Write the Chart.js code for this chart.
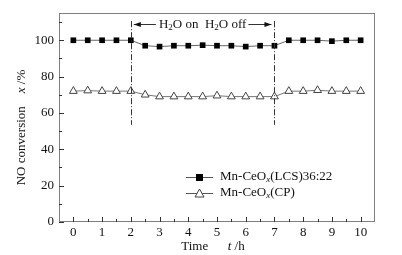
<!DOCTYPE html>
<html>
<head>
<meta charset="utf-8">
<script src="https://cdn.jsdelivr.net/npm/chart.js@4.4.1/dist/chart.umd.min.js"></script>
<style>
html, body { margin: 0; padding: 0; background: #fff; }
#wrap { width: 402px; height: 255px; }
</style>
</head>
<body>
<div id="wrap"><canvas id="chart"></canvas></div>
<script>
// NO conversion vs time, water switched on at 2 h and off at 7 h
var hours = [0, 0.5, 1, 1.5, 2, 2.5, 3, 3.5, 4, 4.5, 5, 5.5, 6, 6.5, 7, 7.5, 8, 8.5, 9, 9.5, 10];
var lcs = [100, 100, 100, 100, 100, 97, 96.5, 97, 97, 97.3, 97, 97, 96.5, 97, 97, 100, 100, 100, 99.5, 100, 100];
var cp = [72, 72.3, 72, 72, 72, 70, 69, 69, 69, 69, 69.5, 69, 69, 69, 69, 72, 72, 72.5, 72, 72, 72];
var switchTimes = [2, 7];
var xTicks = [0, 1, 2, 3, 4, 5, 6, 7, 8, 9, 10];
var yTicks = [0, 20, 40, 60, 80, 100];

var serif = '"Liberation Serif", "DejaVu Serif", serif';

function pts(ys) {
    return hours.map(function (h, i) { return { x: h, y: ys[i] }; });
}

// draws "Mn-CeO" + subscript x + rest
function drawSubText(ctx, parts, x, y) {
    parts.forEach(function (p) {
        ctx.font = (p.italic ? 'italic ' : '') + (p.sub ? '9px ' : '13px ') + serif;
        ctx.fillText(p.t, x, y + (p.sub ? 3 : 0));
        x += ctx.measureText(p.t).width;
    });
    return x;
}
function partsWidth(ctx, parts) {
    var w = 0;
    parts.forEach(function (p) {
        ctx.font = (p.italic ? 'italic ' : '') + (p.sub ? '9px ' : '13px ') + serif;
        w += ctx.measureText(p.t).width;
    });
    return w;
}

var decor = {
    id: 'decor',
    afterDraw: function (chart) {
        var ctx = chart.ctx, a = chart.chartArea;
        var xs = chart.scales.x, ys = chart.scales.y;
        ctx.save();

        // frame
        ctx.strokeStyle = '#808080';
        ctx.lineWidth = 1;
        ctx.strokeRect(a.left + 0.5, a.top + 0.5, a.right - a.left - 1, a.bottom - a.top - 1);

        // inward ticks
        ctx.strokeStyle = '#333';
        ctx.beginPath();
        for (var v = 0; v <= 10; v += 0.5) {
            var px = Math.round(xs.getPixelForValue(v)) + 0.5;
            var len = (v % 1 === 0) ? 5 : 3;
            ctx.moveTo(px, a.bottom);
            ctx.lineTo(px, a.bottom - len);
        }
        for (var w = 0; w <= 110; w += 10) {
            var py = Math.round(ys.getPixelForValue(w)) + 0.5;
            var l2 = (w % 20 === 0) ? 5 : 3;
            ctx.moveTo(a.left, py);
            ctx.lineTo(a.left + l2, py);
        }
        ctx.stroke();

        // dash-dot switch lines
        ctx.strokeStyle = '#333';
        ctx.setLineDash([6, 2, 1, 2]);
        switchTimes.forEach(function (t) {
            var px = Math.round(xs.getPixelForValue(t)) + 0.5;
            ctx.beginPath();
            ctx.moveTo(px, ys.getPixelForValue(110.5));
            ctx.lineTo(px, ys.getPixelForValue(53.5));
            ctx.stroke();
        });
        ctx.setLineDash([]);

        // arrow annotation
        var x1 = xs.getPixelForValue(switchTimes[0]) + 3;
        var x2 = xs.getPixelForValue(switchTimes[1]) - 3;
        var ay = Math.round(ys.getPixelForValue(109)) + 0.5;
        var label = [{ t: 'H' }, { t: '2', sub: true }, { t: 'O on  H' }, { t: '2', sub: true }, { t: 'O off' }];
        var lw = partsWidth(ctx, label);
        var cx = (x1 + x2) / 2;
        var tx = cx - lw / 2;
        ctx.fillStyle = '#111';
        ctx.textBaseline = 'middle';
        ctx.textAlign = 'left';
        drawSubText(ctx, label, tx, ay);
        ctx.beginPath();
        ctx.moveTo(x1, ay); ctx.lineTo(tx - 3, ay);
        ctx.moveTo(tx + lw + 2, ay); ctx.lineTo(x2, ay);
        ctx.stroke();
        ctx.beginPath();
        ctx.moveTo(x1, ay); ctx.lineTo(x1 + 7, ay - 2.5); ctx.lineTo(x1 + 7, ay + 2.5); ctx.closePath();
        ctx.moveTo(x2, ay); ctx.lineTo(x2 - 7, ay - 2.5); ctx.lineTo(x2 - 7, ay + 2.5); ctx.closePath();
        ctx.fill();

        // legend
        var lx = 186, rows = [
            { y: 177, parts: [{ t: 'Mn-CeO' }, { t: 'x', sub: true, italic: true }, { t: '(LCS)36:22' }], ds: 0 },
            { y: 193, parts: [{ t: 'Mn-CeO' }, { t: 'x', sub: true, italic: true }, { t: '(CP)' }], ds: 1 }
        ];
        rows.forEach(function (r) {
            ctx.strokeStyle = '#555';
            ctx.beginPath();
            ctx.moveTo(lx, r.y + 0.5); ctx.lineTo(lx + 27, r.y + 0.5);
            ctx.stroke();
            if (r.ds === 0) {
                ctx.fillStyle = '#000';
                ctx.fillRect(lx + 10, r.y - 3, 7, 7);
            } else {
                ctx.fillStyle = '#fff';
                ctx.strokeStyle = '#444';
                ctx.beginPath();
                ctx.moveTo(lx + 13.5, r.y - 4); ctx.lineTo(lx + 18, r.y + 4); ctx.lineTo(lx + 9, r.y + 4); ctx.closePath();
                ctx.fill(); ctx.stroke();
            }
            ctx.fillStyle = '#111';
            drawSubText(ctx, r.parts, lx + 34, r.y);
        });

        // axis titles
        ctx.fillStyle = '#111';
        ctx.textBaseline = 'middle';
        var xt = [{ t: 'Time      ' }, { t: 't', italic: true }, { t: ' /h' }];
        drawSubText(ctx, xt, (a.left + a.right) / 2 - partsWidth(ctx, xt) / 2 - 4, 247);

        ctx.translate(22, (a.top + a.bottom) / 2 + 10);
        ctx.rotate(-Math.PI / 2);
        var yt = [{ t: 'NO conversion    ' }, { t: 'x', italic: true }, { t: ' /%' }];
        drawSubText(ctx, yt, -partsWidth(ctx, yt) / 2, 0);

        ctx.restore();
    }
};

var ctx = document.getElementById('chart').getContext('2d');
var chart = new Chart(ctx, {
    type: 'line',
    data: {
        datasets: [{
            label: 'Mn-CeOx(LCS)36:22',
            data: pts(lcs),
            borderColor: '#666',
            borderWidth: 1,
            pointStyle: 'rect',
            pointRadius: 4,
            pointBackgroundColor: '#000',
            pointBorderColor: '#000',
            pointBorderWidth: 0
        }, {
            label: 'Mn-CeOx(CP)',
            data: pts(cp),
            borderColor: '#777',
            borderWidth: 1,
            pointStyle: 'triangle',
            pointRadius: 4.5,
            pointBackgroundColor: '#fff',
            pointBorderColor: '#444',
            pointBorderWidth: 1
        }]
    },
    options: {
        responsive: true,
        maintainAspectRatio: false,
        animation: false,
        layout: { padding: { top: 13, right: 27, left: 0, bottom: 0 } },
        plugins: {
            legend: { display: false },
            tooltip: { enabled: false }
        },
        scales: {
            x: {
                type: 'linear',
                min: -0.5,
                max: 10.5,
                afterBuildTicks: function (s) { s.ticks = xTicks.map(function (v) { return { value: v }; }); },
                afterFit: function (s) { s.height = 33; },
                grid: { display: false, drawTicks: false },
                border: { display: false },
                ticks: { color: '#111', padding: 3, maxRotation: 0, font: { family: serif, size: 13 } }
            },
            y: {
                min: 0,
                max: 115,
                afterBuildTicks: function (s) { s.ticks = yTicks.map(function (v) { return { value: v }; }); },
                afterFit: function (s) { s.width = 59; },
                grid: { display: false, drawTicks: false },
                border: { display: false },
                ticks: { color: '#111', padding: 5, font: { family: serif, size: 13 } }
            }
        }
    },
    plugins: [decor]
});
</script>
</body>
</html>
